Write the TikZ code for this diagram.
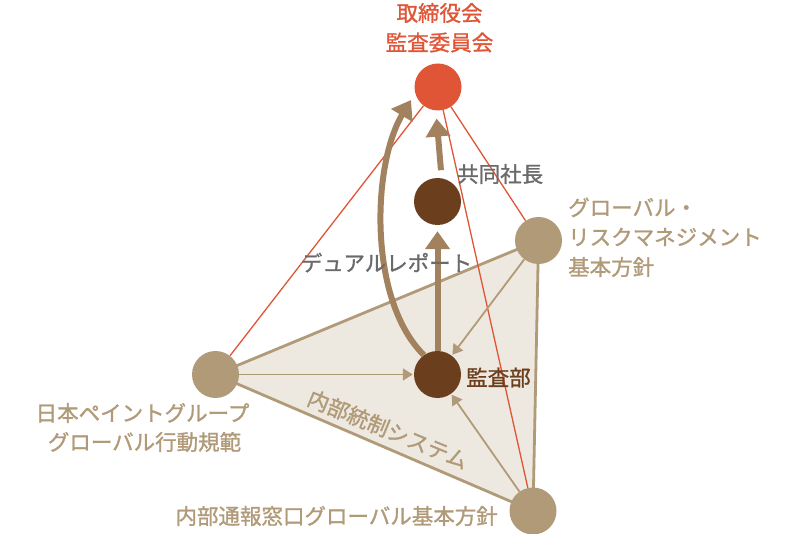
\documentclass[tikz,border=0pt]{standalone}
\usepackage{fontspec}
\setmainfont{Noto Sans CJK JP}[FakeBold=1.2]
\usetikzlibrary{arrows.meta}
\pgfdeclarelayer{bg}
\pgfsetlayers{bg,main}
\definecolor{redc}{HTML}{DF5535}
\definecolor{tanc}{HTML}{B09A78}
\definecolor{tanfill}{HTML}{EEE9E0}
\definecolor{brownc}{HTML}{6B3F1D}
\definecolor{arrowc}{HTML}{A2825E}
\definecolor{grayt}{HTML}{6A6A6A}
\begin{document}
\begin{tikzpicture}[x=1pt,y=-1pt,
  dot/.style={circle,inner sep=0pt,minimum size=47pt},
  lbl/.style={font=\fontsize{21.5}{21.5}\selectfont, inner sep=0pt, text height=17.8pt, text depth=1.5pt},
  redline/.style={draw=redc,line width=1.3pt},
  thinarrow/.style={draw=tanc,line width=1.8pt,-{Triangle[width=12pt,length=10pt]}},
  bigarrow/.style={draw=arrowc,line width=6pt,-{Triangle[width=24pt,length=18pt]}}]
\useasboundingbox (0,0) rectangle (800,534);

% nodes
\node[dot,fill=redc] (board) at (438,87) {};
\node[dot,fill=brownc] (copres) at (437.5,201.5) {};
\node[dot,fill=brownc] (audit) at (437.5,374.5) {};
\node[dot,fill=tanc] (risk) at (538.5,240.5) {};
\node[dot,fill=tanc] (code) at (215.5,374.5) {};
\node[dot,fill=tanc] (whistle) at (533,511) {};

% labels
\node[lbl,text=redc] (t1) at (439.5,13) {取締役会};
\node[lbl,text=redc] (t2) at (439.5,42.5) {監査委員会};
\node[lbl,text=grayt,anchor=west] (cp) at (457,174) {共同社長};
\node[lbl,text=grayt] (dual) at (386.5,263) {デュアルレポート};
\node[lbl,text=brownc,anchor=west] (ad) at (466,377.5) {監査部};
\node[lbl,text=tanc,anchor=west] (r1) at (568,207.5) {グローバル・};
\node[lbl,text=tanc,anchor=west] (r2) at (568,237) {リスクマネジメント};
\node[lbl,text=tanc,anchor=west] (r3) at (568,267) {基本方針};
\node[lbl,text=tanc] (l1) at (142.5,413) {日本ペイントグループ};
\node[lbl,text=tanc] (l2) at (144.5,442) {グローバル行動規範};
\node[lbl,text=tanc,anchor=east] (b1) at (498,516) {内部通報窓口グローバル基本方針};
\node[lbl,text=tanc,rotate=-22.5] (ics) at (388,429.5) {内部統制システム};

\begin{pgfonlayer}{bg}
  \filldraw[fill=tanfill,draw=tanc,line width=2.8pt,line join=round]
    (code.center) -- (risk.center) -- (whistle.center) -- cycle;
  \draw[redline] (board) -- (code);
  \draw[redline] (board) -- (risk);
  \draw[redline] (board) -- (whistle);
  \draw[thinarrow,shorten >=1pt] (code) -- (audit);
  \draw[thinarrow,shorten >=1pt] (risk) -- (audit);
  \draw[thinarrow,shorten >=1pt] (whistle) -- (audit);
  \draw[bigarrow,shorten >=6pt] (audit) -- (copres);
  \draw[bigarrow,shorten <=8pt,shorten >=8pt] (copres.80) -- (board.265);
  \draw[bigarrow,shorten >=8pt] (audit.125) .. controls (368,300) and (372,165) .. (board.195);
\end{pgfonlayer}
\end{tikzpicture}
\end{document}
